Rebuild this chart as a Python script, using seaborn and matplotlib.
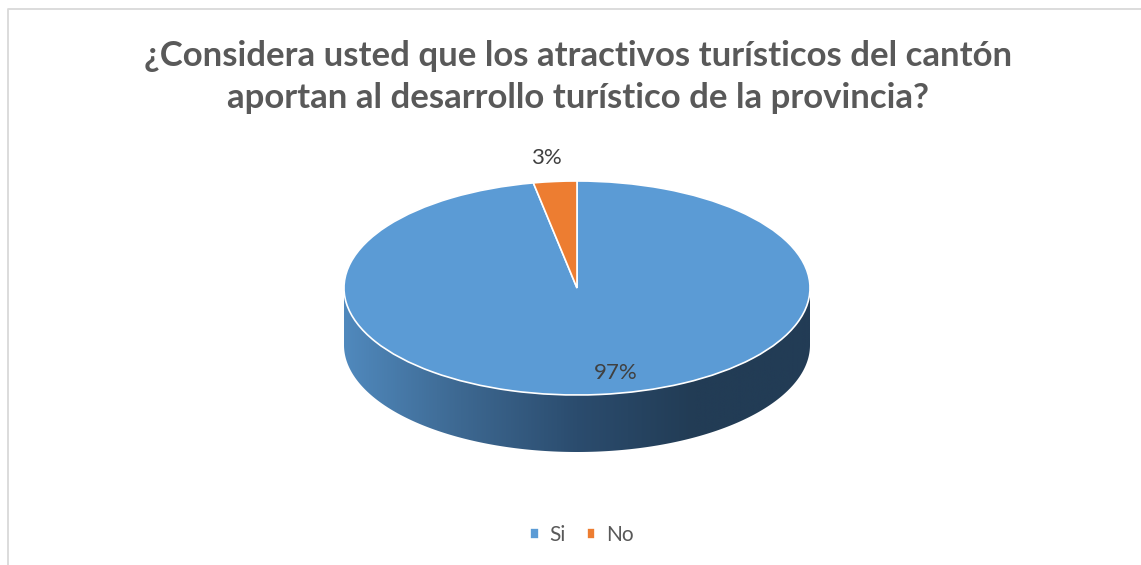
import numpy as np
import matplotlib
matplotlib.use('Agg')
import matplotlib.pyplot as plt
import seaborn as sns
from matplotlib.colors import LinearSegmentedColormap
from matplotlib.patches import Polygon

# Data
labels = ['Si', 'No']
values = [97, 3]
colors = ['#5B9BD5', '#ED7D31']
title = ('¿Considera usted que los atractivos turísticos del cantón\n'
         'aportan al desarrollo turístico de la provincia?')

sns.set_theme(style='white')
plt.rcParams['font.family'] = ['Lato', 'DejaVu Sans']

W, H = 1141, 565
fig = plt.figure(figsize=(W / 100, H / 100), dpi=100)
fig.patch.set_facecolor('white')

# background axes in pixel coords (y down)
bg = fig.add_axes([0, 0, 1, 1])
bg.axis('off')

# chart border (only top and left visible in the crop)
bg.plot([8, 8, W], [H, 9, 9], color='#d9d9d9', lw=1.3, solid_capstyle='butt')

# pie geometry
cx, cy, rx, ry, depth = 577, 288, 233, 107, 57

# 3D side of the disc, shaded left -> right
t = np.linspace(0, np.pi, 300)
xs = cx + rx * np.cos(t)
ys = cy + ry * np.sin(t)
side = Polygon(np.column_stack([np.r_[xs, xs[::-1]], np.r_[ys, ys[::-1] + depth]]),
               closed=True, facecolor='none', edgecolor='none')
bg.add_patch(side)
shade = LinearSegmentedColormap.from_list(
    'side', ['#5089bd', '#3d6891', '#2b4c6e', '#223c55', '#223c55'])
grad = np.linspace(0, 1, 512)[None, :]
im = bg.imshow(grad, cmap=shade, extent=[cx - rx, cx + rx, cy + ry + depth, cy],
               aspect='auto', zorder=1)
im.set_clip_path(side)

bg.set_xlim(0, W)
bg.set_ylim(H, 0)

# top face: the pie itself, squeezed into an ellipse
pax = fig.add_axes([(cx - rx) / W, 1 - (cy + ry) / H, 2 * rx / W, 2 * ry / H])
wedges, _ = pax.pie(values, colors=colors, startangle=90, counterclock=False,
                    radius=1, wedgeprops=dict(edgecolor='white', linewidth=1.2))
for w in wedges:
    w.set_clip_on(False)
pax.set_aspect('auto')
pax.set_xlim(-1, 1)
pax.set_ylim(-1, 1)
pax.patch.set_visible(False)

total = sum(values)
for w, v in zip(wedges, values):
    mid = np.deg2rad((w.theta1 + w.theta2) / 2)
    big = v / total > 0.1
    dist = 0.8 if big else 1.22
    pax.annotate(f'{v / total:.0%}', (dist * np.cos(mid), dist * np.sin(mid)),
                 xytext=(15 if big else -3, 0), textcoords='offset points',
                 ha='center', va='center', fontsize=16, color='#404040',
                 annotation_clip=False)

# title
fig.text(578 / W, 1 - 77 / H, title, ha='center', va='center', fontsize=25,
         fontweight='bold', color='#595959', linespacing=1.4)

# legend
bg.legend(wedges, labels, loc='center', bbox_to_anchor=(582 / W, 1 - 535 / H),
          bbox_transform=fig.transFigure, ncol=2, frameon=False, fontsize=15,
          labelcolor='#595959', handlelength=0.42, handleheight=0.42,
          handletextpad=0.5, columnspacing=1.0)

fig.savefig('out.png', dpi=100, facecolor='white')
